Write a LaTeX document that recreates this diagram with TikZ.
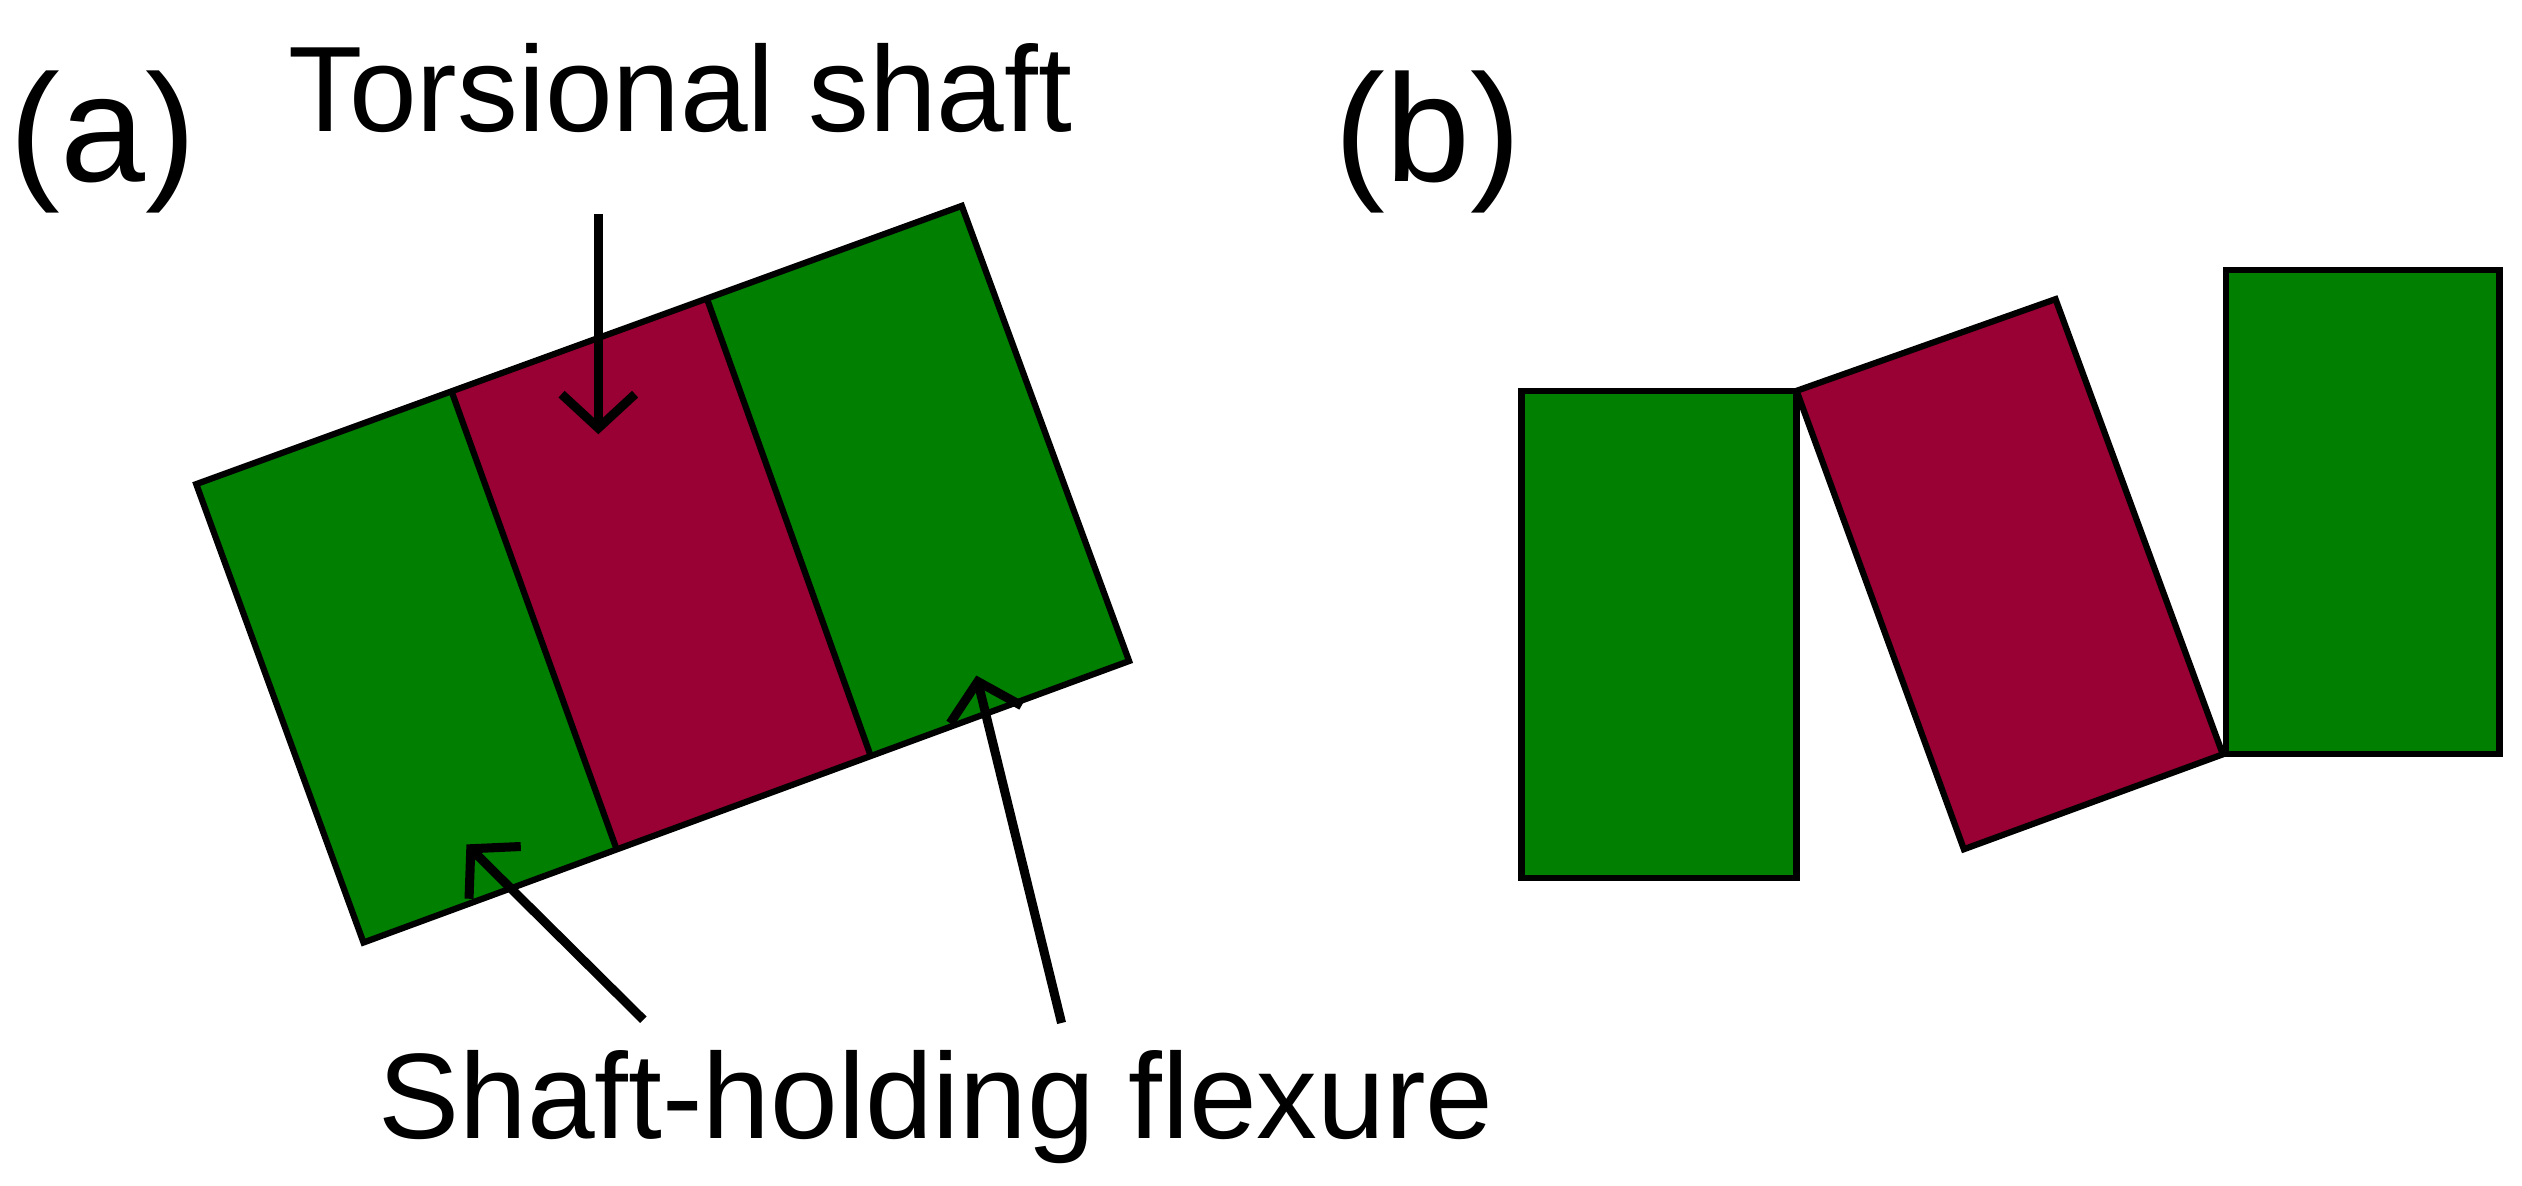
\documentclass[tikz,border=0pt]{standalone}
\usepackage{fontspec}
\setmainfont{Liberation Sans}
\usetikzlibrary{arrows.meta}
\definecolor{flexgreen}{HTML}{007F00}
\definecolor{shaftred}{HTML}{990033}
\begin{document}
\begin{tikzpicture}[x=0.01cm,y=-0.01cm,
                    part/.style = {draw=black, line width=1.1pt},
                    pointer/.style = {line width=1.6pt, ->, >={Straight Barb[length=6pt,width=13pt]}},
                    label/.style = {font=\fontsize{21.5}{26}\selectfont, inner sep=0pt},
                    tag/.style = {font=\fontsize{27}{32}\selectfont, inner sep=0pt}]
\useasboundingbox (0,0) rectangle (1568,737);

%(a) flexure with shaft
\coordinate (a1) at (122,301);
\coordinate (a2) at (281,244);
\coordinate (a3) at (440,187);
\coordinate (a4) at (598,128);
\coordinate (b1) at (226,586);
\coordinate (b2) at (383,527);
\coordinate (b3) at (541,469);
\coordinate (b4) at (702,411);
\fill [flexgreen] (a1)--(a2)--(b2)--(b1)--cycle;
\fill [shaftred] (a2)--(a3)--(b3)--(b2)--cycle;
\fill [flexgreen] (a3)--(a4)--(b4)--(b3)--cycle;
\draw [part] (a1)--(a4)--(b4)--(b1)--cycle;
\draw [part] (a2)--(b2);
\draw [part] (a3)--(b3);

%labels
\node [tag] (pa) at (64,88) {(a)};
\node [tag] (pb) at (888,88) {(b)};
\node [label] (shaft) at (423,55) {Torsional shaft};
\node [label] (flex) at (582,688) {Shaft-holding flexure};

%pointers
\coordinate (s0) at (372,133);
\coordinate (s1) at (372,270);
\coordinate (l0) at (400,634);
\coordinate (l1) at (290,525);
\coordinate (r0) at (660,636);
\coordinate (r1) at (607,420);
\draw [pointer] (s0)--(s1);
\draw [pointer] (l0)--(l1);
\draw [pointer] (r0)--(r1);

%(b) shaft twisted alone
\draw [part, fill=flexgreen] (946,243) rectangle (1117,546);
\draw [part, fill=shaftred] (1117,243)--(1278,186)--(1382,469)--(1221,528)--cycle;
\draw [part, fill=flexgreen] (1384,168) rectangle (1554,469);
\end{tikzpicture}
\end{document}
